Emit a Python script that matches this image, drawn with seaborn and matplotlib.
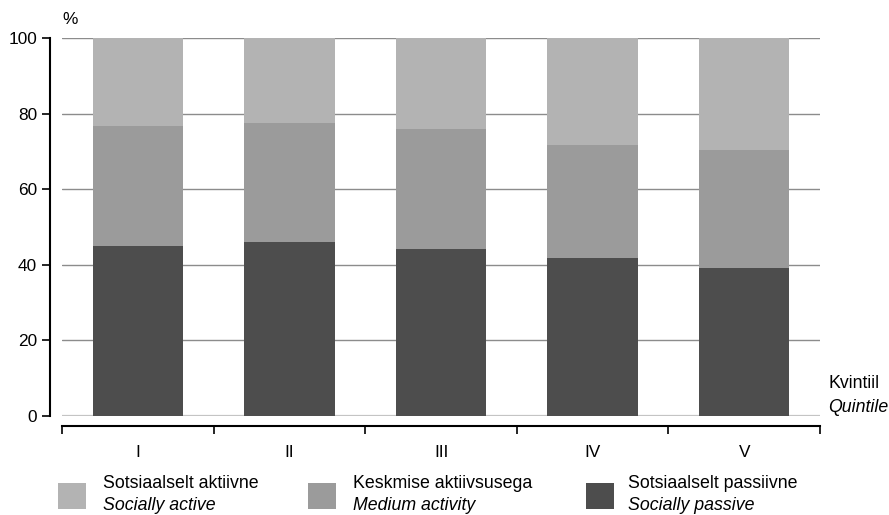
import matplotlib
matplotlib.use("Agg")
import matplotlib.pyplot as plt
import seaborn as sns
import pandas as pd
import numpy as np
from matplotlib.patches import Rectangle

sns.set_theme(style="white")
plt.rcParams['font.family'] = ['Liberation Sans', 'DejaVu Sans']
plt.rcParams['text.color'] = 'black'
plt.rcParams['xtick.color'] = 'black'
plt.rcParams['ytick.color'] = 'black'

quintiles = ["I", "II", "III", "IV", "V"]
passive = [44.9, 45.9, 44.3, 41.7, 39.1]
medium = [31.9, 31.7, 31.7, 30.1, 31.3]
active = [23.2, 22.4, 24.0, 28.2, 29.6]

labels_et = ["Sotsiaalselt aktiivne", "Keskmise aktiivsusega", "Sotsiaalselt passiivne"]
labels_en = ["Socially active", "Medium activity", "Socially passive"]
colors = ["#b3b3b3", "#9b9b9b", "#4d4d4d"]

df = pd.DataFrame({"q": quintiles, "passive": passive, "medium": medium, "active": active})
df["bottom_medium"] = df["passive"]
df["bottom_active"] = df["passive"] + df["medium"]

W, H = 889, 515
fig = plt.figure(figsize=(W / 100, H / 100), dpi=100)
ax = fig.add_axes([62 / W, 1 - 416 / H, (820 - 62) / W, (416 - 38) / H])

fs_tick = 12.4
fs = 12.8
bw = 0.595
sns.barplot(data=df, x="q", y="passive", color=colors[2], width=bw, saturation=1,
            ax=ax, zorder=3, linewidth=0)
sns.barplot(data=df, x="q", y="medium", bottom=df["bottom_medium"], color=colors[1],
            width=bw, saturation=1, ax=ax, zorder=3, linewidth=0)
sns.barplot(data=df, x="q", y="active", bottom=df["bottom_active"], color=colors[0],
            width=bw, saturation=1, ax=ax, zorder=3, linewidth=0)

ax.set_xlim(-0.5, 4.5)
ax.set_ylim(0, 100)
ax.set_xlabel("")
ax.set_ylabel("")

# gridlines
for v in [20, 40, 60, 80, 100]:
    ax.axhline(v, color="#8c8c8c", lw=1.0, zorder=1)
ax.axhline(0, color="#c4c4c4", lw=1.6, zorder=1)

# spines
for s in ["top", "right"]:
    ax.spines[s].set_visible(False)
ax.spines["left"].set_position(("outward", 9))
ax.spines["bottom"].set_position(("outward", 7))
ax.spines["left"].set_color("black")
ax.spines["bottom"].set_color("black")
ax.spines["left"].set_linewidth(1.5)
ax.spines["bottom"].set_linewidth(1.5)

ax.set_yticks([0, 20, 40, 60, 80, 100])
ax.set_yticklabels(["0", "20", "40", "60", "80", "100"], fontsize=fs_tick)
ax.tick_params(axis="y", direction="out", length=6, width=1.2, color="black", pad=3, left=True)

ax.set_xticks(range(5))
ax.set_xticklabels(quintiles, fontsize=fs_tick)
ax.set_xticks(np.arange(-0.5, 5.0, 1.0), minor=True)
ax.tick_params(axis="x", which="major", length=0, pad=14)
ax.tick_params(axis="x", which="minor", direction="out", length=6, width=1.2, color="black", bottom=True)

fig.text(62 / W, 1 - 20 / H, "%", fontsize=fs_tick, ha="left", va="center")
fig.text(828 / W, 1 - 383 / H, "Kvintiil", fontsize=fs, ha="left", va="center")
fig.text(828 / W, 1 - 407 / H, "Quintile", fontsize=fs, ha="left", va="center", style="italic")

# legend
patch_x = [58, 308, 586]
text_x = [103, 353, 628]
for i in range(3):
    fig.add_artist(Rectangle((patch_x[i] / W, 1 - 509 / H), 28 / W, 26 / H,
                             transform=fig.transFigure, facecolor=colors[i], edgecolor="none"))
    fig.text(text_x[i] / W, 1 - 484 / H, labels_et[i], fontsize=fs, ha="left", va="center")
    fig.text(text_x[i] / W, 1 - 505 / H, labels_en[i], fontsize=fs, ha="left", va="center",
             style="italic")

fig.savefig("out.png", dpi=100, facecolor="white")
